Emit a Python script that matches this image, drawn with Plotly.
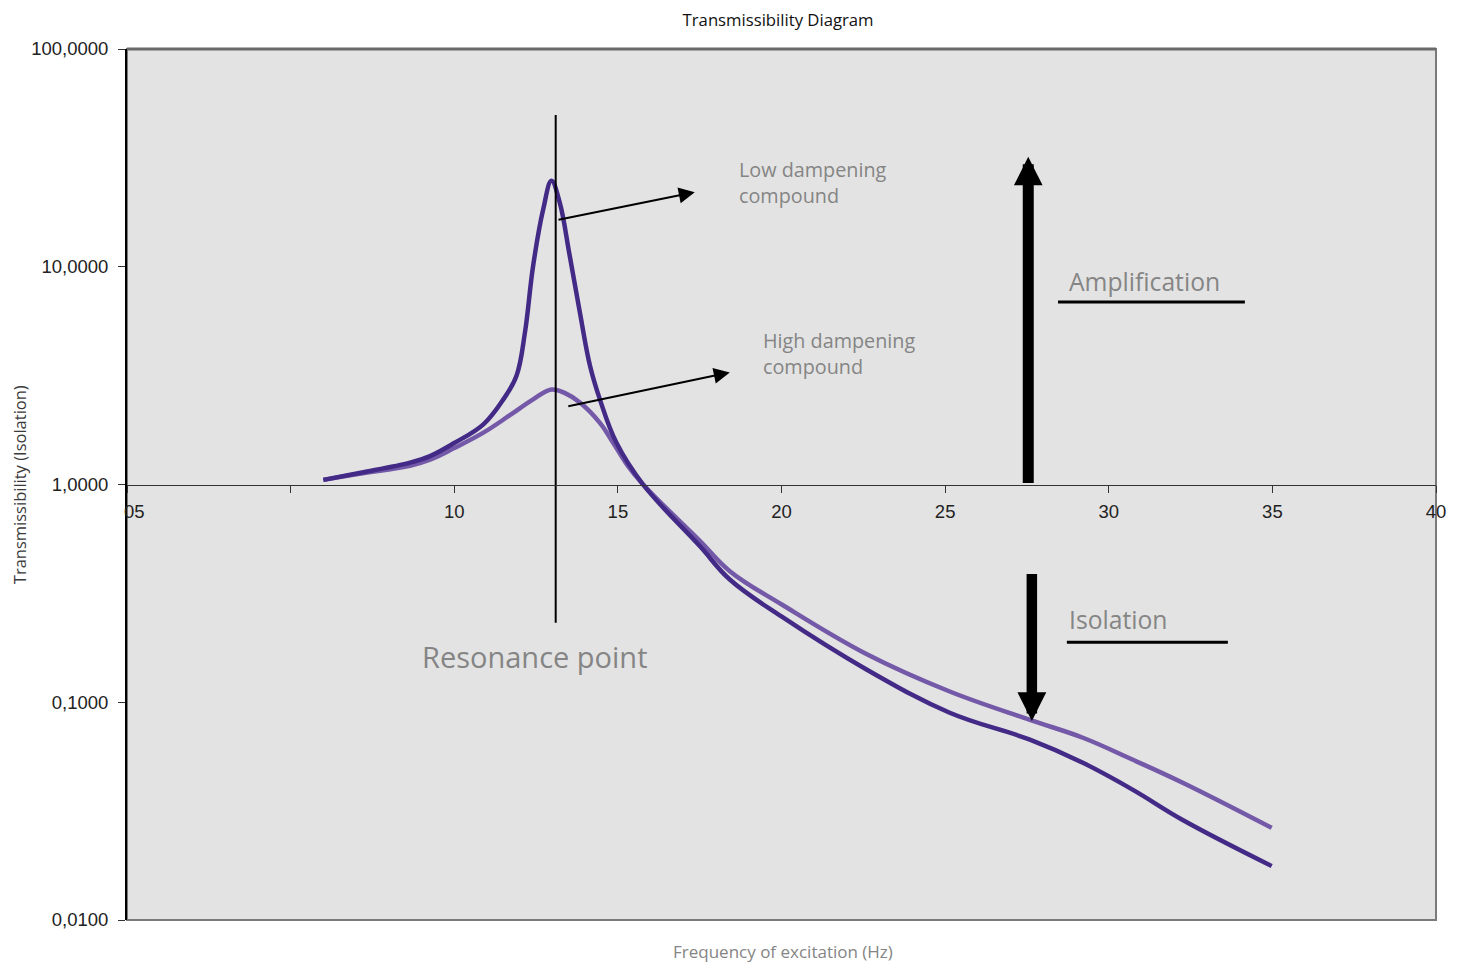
import math
import plotly.graph_objects as go

# Frequency (Hz) and transmissibility for the two compounds
freq_low = [6.0, 7.1, 8.65, 9.26, 10.0, 10.89, 11.5, 11.9, 12.16, 12.41, 12.72, 12.97, 13.22, 13.53, 13.84,
            14.15, 14.45, 14.96, 15.77, 17.51, 18.42, 20.01, 22.61, 25.14, 27.59, 29.21, 30.74, 32.26, 34.98]
trans_low = [1.05, 1.13, 1.26, 1.35, 1.55, 1.89, 2.46, 3.15, 4.99, 10.1, 18.4, 24.8, 19.8, 11.2, 6.16,
             3.50, 2.46, 1.55, 1.0, 0.52, 0.366, 0.247, 0.141, 0.0895, 0.0673, 0.0527, 0.0396, 0.0288, 0.0177]

freq_high = [6.0, 7.1, 8.65, 9.26, 10.0, 10.89, 11.7, 12.41, 12.97, 13.4, 13.84, 14.45, 14.85, 15.3, 15.77,
             17.51, 18.42, 20.01, 22.61, 25.14, 27.59, 29.21, 30.74, 32.26, 34.98]
trans_high = [1.05, 1.12, 1.22, 1.30, 1.47, 1.73, 2.08, 2.46, 2.73, 2.62, 2.38, 1.92, 1.56, 1.22, 1.0,
              0.55, 0.40, 0.281, 0.166, 0.112, 0.083, 0.0687, 0.0544, 0.0427, 0.0265]

x_ticks = [0, 5, 10, 15, 20, 25, 30, 35, 40]
x_tick_text = ["", "", "10", "15", "20", "25", "30", "35", "40"]
y_ticks = [0.01, 0.1, 1, 10, 100]
y_tick_text = ["0,0100", "0,1000", "1,0000", "10,0000", "100,0000"]

resonance_x = 13.1
resonance_y = [0.232, 49.8]

DARK = "#432a86"
LIGHT = "#7459a8"
GRAY = "#858585"

fig = go.Figure()
fig.add_trace(go.Scatter(x=freq_high, y=trans_high, mode="lines",
                         line=dict(color=LIGHT, width=4.5, shape="spline", smoothing=1.1),
                         showlegend=False, hoverinfo="skip"))
fig.add_trace(go.Scatter(x=freq_low, y=trans_low, mode="lines",
                         line=dict(color=DARK, width=4.5, shape="spline", smoothing=1.1),
                         showlegend=False, hoverinfo="skip"))
fig.add_trace(go.Scatter(x=[resonance_x, resonance_x], y=resonance_y, mode="lines",
                         line=dict(color="black", width=2), showlegend=False, hoverinfo="skip"))

L = math.log10
annotations = [
    # small arrows
    dict(x=17.35, y=L(22.0), ax=13.14, ay=L(16.4), axref="x", ayref="y", xref="x", yref="y",
         text="", showarrow=True, arrowhead=2, arrowsize=1.6, arrowwidth=2, arrowcolor="black", standoff=0, startstandoff=0),
    dict(x=18.42, y=L(3.27), ax=13.44, ay=L(2.28), axref="x", ayref="y", xref="x", yref="y",
         text="", showarrow=True, arrowhead=2, arrowsize=1.6, arrowwidth=2, arrowcolor="black", standoff=0, startstandoff=0),
    # big arrows
    dict(x=27.54, y=L(32.0), ax=27.54, ay=L(1.0), axref="x", ayref="y", xref="x", yref="y",
         text="", showarrow=True, arrowhead=2, arrowsize=0.52, arrowwidth=11, arrowcolor="black", standoff=0),
    dict(x=27.65, y=L(0.082), ax=27.65, ay=L(0.394), axref="x", ayref="y", xref="x", yref="y",
         text="", showarrow=True, arrowhead=2, arrowsize=0.55, arrowwidth=10.5, arrowcolor="black", standoff=0),
    # texts
    dict(x=18.64, y=L(24.3), xref="x", yref="y", xanchor="left", yanchor="middle", align="left",
         text="Low dampening<br>compound", showarrow=False,
         font=dict(family="Open Sans", size=19.8, color=GRAY)),
    dict(x=19.37, y=L(4.0), xref="x", yref="y", xanchor="left", yanchor="middle", align="left",
         text="High dampening<br>compound", showarrow=False,
         font=dict(family="Open Sans", size=19.8, color=GRAY)),
    dict(x=28.72, y=L(8.58), xref="x", yref="y", xanchor="left", yanchor="middle",
         text="Amplification", showarrow=False,
         font=dict(family="Open Sans", size=24.7, color=GRAY)),
    dict(x=28.72, y=L(0.239), xref="x", yref="y", xanchor="left", yanchor="middle",
         text="Isolation", showarrow=False,
         font=dict(family="Open Sans", size=24.7, color=GRAY)),
    dict(x=8.95, y=L(0.162), xref="x", yref="y", xanchor="left", yanchor="middle",
         text="Resonance point", showarrow=False,
         font=dict(family="Open Sans", size=29, color=GRAY)),
    # x tick label "05"
    dict(x=0, y=-0.124, xref="x", yref="y", xanchor="left", yanchor="middle", xshift=-5,
         text="05", showarrow=False, font=dict(family="Liberation Sans", size=18.5, color="#222")),
    # axis titles
    dict(x=0.5015, y=-0.0356, xref="paper", yref="paper", xanchor="center", yanchor="middle",
         text="Frequency of excitation (Hz)", showarrow=False,
         font=dict(family="Open Sans", size=17, color=GRAY)),
    dict(x=-0.082, y=0.5, xref="paper", yref="paper", xanchor="center", yanchor="middle", textangle=-90,
         text="Transmissibility (Isolation)", showarrow=False,
         font=dict(family="Open Sans", size=16.5, color="#3a3a3a")),
]

shapes = [
    dict(type="rect", xref="paper", yref="paper", x0=0, x1=1, y0=0, y1=1,
         line=dict(color="#7a7a7a", width=2), layer="below"),
    dict(type="line", xref="paper", yref="paper", x0=0, x1=1, y0=1, y1=1,
         line=dict(color="#6a6a6a", width=3)),
    # underlines
    dict(type="line", xref="x", yref="paper", x0=28.45, x1=34.16, y0=0.7095, y1=0.7095,
         line=dict(color="black", width=3)),
    dict(type="line", xref="x", yref="paper", x0=28.72, x1=33.64, y0=0.319, y1=0.319,
         line=dict(color="black", width=3)),
]

fig.update_layout(
    width=1464, height=962,
    margin=dict(l=119, r=36, t=41, b=50),
    paper_bgcolor="white",
    plot_bgcolor="#e3e3e3",
    title=dict(text="Transmissibility Diagram", x=0.526, xanchor="center", y=0.9875, yanchor="middle",
               font=dict(family="Open Sans", size=16.7, color="#111")),
    xaxis=dict(range=[0, 40], tickvals=x_ticks, ticktext=x_tick_text, showgrid=False, zeroline=False,
               anchor="free", position=0.5, showline=True, linecolor="#333", linewidth=1,
               ticks="outside", ticklen=7, tickcolor="#333", ticklabelstandoff=3,
               tickfont=dict(family="Liberation Sans", size=18.5, color="#222")),
    yaxis=dict(type="log", range=[-2, 2], tickvals=y_ticks, ticktext=y_tick_text, showgrid=False, zeroline=False,
               showline=True, linecolor="black", linewidth=2, ticks="outside", ticklen=7, tickcolor="#333",
               ticklabelstandoff=6,
               tickfont=dict(family="Liberation Sans", size=18.5, color="#222")),
    annotations=annotations,
    shapes=shapes,
)

fig.write_html("out.html")
